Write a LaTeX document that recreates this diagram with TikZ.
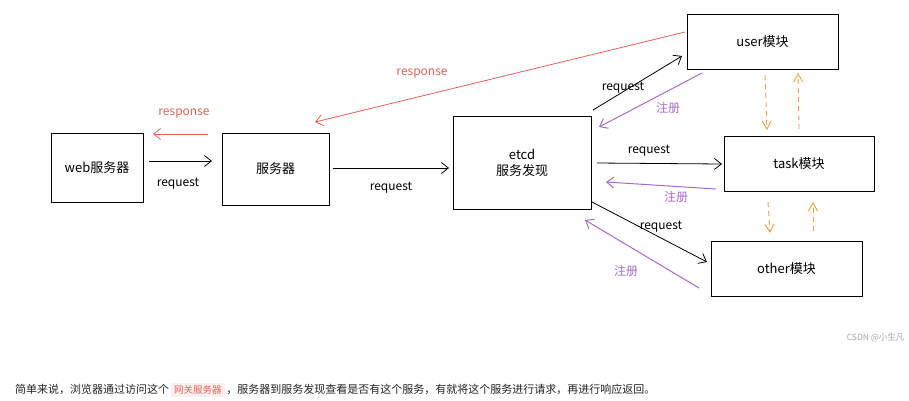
\documentclass[tikz,border=0pt]{standalone}
\usepackage{fontspec}
\setmainfont{Noto Sans CJK SC}
\usetikzlibrary{arrows.meta}
\definecolor{resp}{HTML}{E0645A}
\definecolor{reg}{HTML}{A86CC8}
\definecolor{dash}{HTML}{F0A040}
\begin{document}
\begin{tikzpicture}[x=1pt,y=-1pt,
  box/.style={draw,line width=1pt,inner sep=0pt,font=\fontsize{13}{16}\selectfont},
  lbl/.style={font=\fontsize{12}{14}\selectfont},
  reqa/.style={draw,line width=0.8pt,-{Straight Barb[length=7pt,width=11pt]}},
  respa/.style={draw=resp,line width=0.8pt,-{Straight Barb[length=7pt,width=11pt]}},
  rega/.style={draw=reg,line width=1pt,-{Straight Barb[length=7pt,width=11pt]}},
  oda/.style={draw=dash,line width=0.9pt,dash pattern=on 5pt off 4pt,-{Straight Barb[length=8pt,width=9pt]}}]
\useasboundingbox (0,0) rectangle (909,400);
\fill[white] (0,0) rectangle (909,400);
% boxes
\node[box,minimum width=92pt,minimum height=69pt] (web) at (97,167.5) {web服务器};
\node[box,minimum width=107pt,minimum height=72pt] (srv) at (275.5,169) {服务器};
\node[box,minimum width=138pt,minimum height=93pt,align=center] (etcd) at (522,162.5) {etcd\\服务发现};
\node[box,minimum width=151pt,minimum height=55pt] (user) at (762.5,41.5) {user模块};
\node[box,minimum width=150pt,minimum height=55pt] (task) at (799,163.5) {task模块};
\node[box,minimum width=151pt,minimum height=55pt] (other) at (786.5,268.5) {other模块};
% coordinates
\coordinate (a1) at (149,161); \coordinate (a2) at (212,161);
\coordinate (b1) at (208,134); \coordinate (b2) at (153,134);
\coordinate (c1) at (333,168); \coordinate (c2) at (449,168);
\coordinate (d1) at (685,32); \coordinate (d2) at (315,122);
\coordinate (e1) at (593,110); \coordinate (e2) at (682,56);
\coordinate (f1) at (702,73); \coordinate (f2) at (599,127);
\coordinate (g1) at (597,163); \coordinate (g2) at (722,164);
\coordinate (h1) at (716,189); \coordinate (h2) at (606,182);
\coordinate (i1) at (592,202); \coordinate (i2) at (707,262);
\coordinate (j1) at (699,288); \coordinate (j2) at (585,220);
\coordinate (k1) at (765,75); \coordinate (k2) at (767,130);
\coordinate (l1) at (799,129); \coordinate (l2) at (798,73);
\coordinate (m1) at (768,202); \coordinate (m2) at (770,233);
\coordinate (n1) at (813,231); \coordinate (n2) at (813,202);
% arrows
\draw[reqa] (a1) -- (a2);
\draw[respa] (b1) -- (b2);
\draw[reqa] (c1) -- (c2);
\draw[respa] (d1) -- (d2);
\draw[reqa] (e1) -- (e2);
\draw[rega] (f1) -- (f2);
\draw[reqa] (g1) -- (g2);
\draw[rega] (h1) -- (h2);
\draw[reqa] (i1) -- (i2);
\draw[rega] (j1) -- (j2);
\draw[oda] (k1) -- (k2);
\draw[oda] (l1) -- (l2);
\draw[oda] (m1) -- (m2);
\draw[oda] (n1) -- (n2);
% labels
\node[lbl] (t1) at (178,184) {request};
\node[lbl,text=resp] (t2) at (184,114) {response};
\node[lbl] (t3) at (391,188) {request};
\node[lbl,text=resp] (t4) at (422,74) {response};
\node[lbl] (t5) at (623,88) {request};
\node[lbl,text=reg] (t6) at (668,108) {注册};
\node[lbl] (t7) at (649,151) {request};
\node[lbl,text=reg] (t8) at (676,197) {注册};
\node[lbl] (t9) at (661,227) {request};
\node[lbl,text=reg] (t10) at (626,271) {注册};
% footer
\node[anchor=east,text=black!35,font=\fontsize{8.5}{10}\selectfont] (wm) at (908,338) {CSDN @小生凡};
\node[anchor=west,inner sep=0pt,text=black!85,font=\fontsize{11}{12}\selectfont] (foot) at (15,390) {简单来说，浏览器通过访问这个\,\colorbox{red!6}{\textcolor{resp}{\fontsize{9.5}{11}\selectfont 网关服务器}}\,，服务器到服务发现查看是否有这个服务，有就将这个服务进行请求，再进行响应返回。};
\end{tikzpicture}
\end{document}
